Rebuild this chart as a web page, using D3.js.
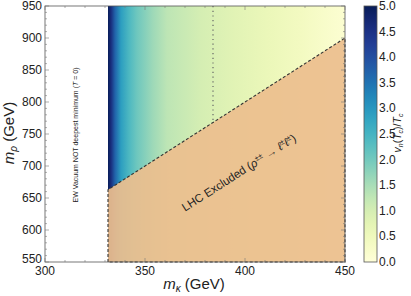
<!DOCTYPE html>
<html>
<head>
<meta charset="utf-8">
<script src="https://cdn.jsdelivr.net/npm/d3@7"></script>
<style>
  body { margin: 0; background: #fff; }
  text { font-family: "Liberation Sans", Arial, sans-serif; }
</style>
</head>
<body>
<div id="chart"></div>
<script>
// values
const mKappa = [331.5, 333, 335, 338, 342, 346, 354, 361, 378, 394, 411, 428, 445, 450];
const vOverT = [5.0, 4.6, 3.7, 2.9, 2.4, 2.05, 1.6, 1.3, 1.0, 0.8, 0.6, 0.4, 0.17, 0.12];
const lhcKappa = [331.5, 450];
const lhcRho = [663, 900];
const dottedKappa = 384;
const xTicks = [300, 350, 400, 450];
const yTicks = [550, 600, 650, 700, 750, 800, 850, 900, 950];
const cTicks = [0, 0.5, 1, 1.5, 2, 2.5, 3, 3.5, 4, 4.5, 5];

const W = 411, H = 296;
const svg = d3.select("#chart").append("svg").attr("width", W).attr("height", H);

const x = d3.scaleLinear().domain([300, 450]).range([45, 345]);
const y = d3.scaleLinear().domain([550, 950]).range([262, 6]);
const c = d3.scaleLinear().domain([0, 5]).range([262, 6]);
const col = v => d3.interpolateYlGnBu(v / 5);

const defs = svg.append("defs");
const x0 = x(mKappa[0]), x1 = x(mKappa[mKappa.length - 1]);
const heat = defs.append("linearGradient").attr("id", "heat")
    .attr("x1", "0%").attr("x2", "100%").attr("y1", "0%").attr("y2", "0%");
mKappa.forEach((m, i) => {
    heat.append("stop")
        .attr("offset", ((x(m) - x0) / (x1 - x0) * 100) + "%")
        .attr("stop-color", col(vOverT[i]));
});

const cb = defs.append("linearGradient").attr("id", "cbar")
    .attr("x1", "0%").attr("x2", "0%").attr("y1", "100%").attr("y2", "0%");
d3.range(0, 1.0001, 0.05).forEach(t => {
    cb.append("stop").attr("offset", (t * 100) + "%").attr("stop-color", d3.interpolateYlGnBu(t));
});

// density region
svg.append("rect")
    .attr("x", x0).attr("y", y(950))
    .attr("width", x1 - x0).attr("height", y(550) - y(950))
    .attr("fill", "url(#heat)");

// LHC excluded region
const excl = [[lhcKappa[0], 550], [lhcKappa[0], lhcRho[0]], [lhcKappa[1], lhcRho[1]], [lhcKappa[1], 550]];
svg.append("path")
    .attr("d", d3.line().x(d => x(d[0])).y(d => y(d[1]))(excl) + "Z")
    .attr("fill", "rgb(236,190,142)").attr("fill-opacity", 0.93)
    .attr("stroke", "#333").attr("stroke-width", 1.1)
    .attr("stroke-dasharray", "3,2");

// dotted vertical line
const lhcAt = lhcRho[0] + (dottedKappa - lhcKappa[0]) * (lhcRho[1] - lhcRho[0]) / (lhcKappa[1] - lhcKappa[0]);
svg.append("line")
    .attr("x1", x(dottedKappa)).attr("x2", x(dottedKappa))
    .attr("y1", y(950)).attr("y2", y(lhcAt))
    .attr("stroke", "#666").attr("stroke-width", 1.2)
    .attr("stroke-dasharray", "1.2,3.5");

// frame with inward ticks on all sides
const frame = svg.append("g");
frame.append("rect")
    .attr("x", x(300)).attr("y", y(950))
    .attr("width", x(450) - x(300)).attr("height", y(550) - y(950))
    .attr("fill", "none").attr("stroke", "#555").attr("stroke-width", 0.8);

const tk = (x1, y1, x2, y2, w) => frame.append("line")
    .attr("x1", x1).attr("y1", y1).attr("x2", x2).attr("y2", y2)
    .attr("stroke", "#777").attr("stroke-width", w);
d3.range(300, 451, 10).forEach(v => {
    const L = v % 50 === 0 ? 4 : 2;
    tk(x(v), y(550), x(v), y(550) - L, 0.6);
    tk(x(v), y(950), x(v), y(950) + L, 0.6);
});
d3.range(550, 951, 10).forEach(v => {
    const L = v % 50 === 0 ? 4 : 2;
    tk(x(300), y(v), x(300) + L, y(v), 0.6);
    tk(x(450), y(v), x(450) - L, y(v), 0.6);
});

// tick labels
svg.append("g").selectAll("text").data(xTicks).join("text")
    .attr("x", d => x(d)).attr("y", 275)
    .attr("text-anchor", "middle").attr("font-size", 12).attr("fill", "#222")
    .text(d => d);
svg.append("g").selectAll("text").data(yTicks).join("text")
    .attr("x", 42).attr("y", (d, i) => y(d) + (i === 0 ? 1 : 4))
    .attr("text-anchor", "end").attr("font-size", 12).attr("fill", "#222")
    .text(d => d);

// axis titles
svg.append("text").attr("x", 194).attr("y", 289)
    .attr("text-anchor", "middle").attr("font-size", 15).attr("fill", "#222")
    .html('<tspan font-style="italic">m</tspan><tspan font-style="italic" font-size="10" dy="3">κ</tspan><tspan dy="-3"> (GeV)</tspan>');
svg.append("text").attr("transform", "translate(14,133) rotate(-90)")
    .attr("text-anchor", "middle").attr("font-size", 15).attr("fill", "#222")
    .html('<tspan font-style="italic">m</tspan><tspan font-style="italic" font-size="10" dy="3">ρ</tspan><tspan dy="-3"> (GeV)</tspan>');

// annotations
svg.append("text").attr("transform", "translate(78,135) rotate(-90)")
    .attr("text-anchor", "middle").attr("font-size", 7).attr("fill", "#222")
    .html('EW Vacuum NOT deepest minimum (<tspan font-style="italic">T</tspan> = 0)');
const ang = Math.atan2(y(lhcRho[1]) - y(lhcRho[0]), x(lhcKappa[1]) - x(lhcKappa[0])) * 180 / Math.PI;
svg.append("text").attr("transform", `translate(241,176) rotate(${ang})`)
    .attr("text-anchor", "middle").attr("font-size", 11.5).attr("fill", "#222")
    .html('LHC Excluded (<tspan font-style="italic">ρ</tspan><tspan font-size="7.5" dy="-4">±±</tspan><tspan dy="4"> → </tspan><tspan font-style="italic">ℓ</tspan><tspan font-size="7.5" dy="-4">±</tspan><tspan dy="4" font-style="italic">ℓ</tspan><tspan font-size="7.5" dy="-4">±</tspan><tspan dy="4">)</tspan>');

// colorbar
svg.append("rect").attr("x", 364).attr("y", c(5))
    .attr("width", 13).attr("height", c(0) - c(5))
    .attr("fill", "url(#cbar)").attr("stroke", "#555").attr("stroke-width", 0.8);
svg.append("g").selectAll("text").data(cTicks).join("text")
    .attr("x", 379).attr("y", d => c(d) + 4)
    .attr("font-size", 12).attr("fill", "#222")
    .text(d => d.toFixed(1));
svg.append("text").attr("transform", "translate(401,133) rotate(-90)")
    .attr("text-anchor", "middle").attr("font-size", 10.5).attr("fill", "#222")
    .html('<tspan font-style="italic">v</tspan><tspan font-style="italic" font-size="7" dy="2">n</tspan><tspan dy="-2">(</tspan><tspan font-style="italic">T</tspan><tspan font-style="italic" font-size="7" dy="2">c</tspan><tspan dy="-2">)/</tspan><tspan font-style="italic">T</tspan><tspan font-style="italic" font-size="7" dy="2">c</tspan>');
</script>
</body>
</html>
